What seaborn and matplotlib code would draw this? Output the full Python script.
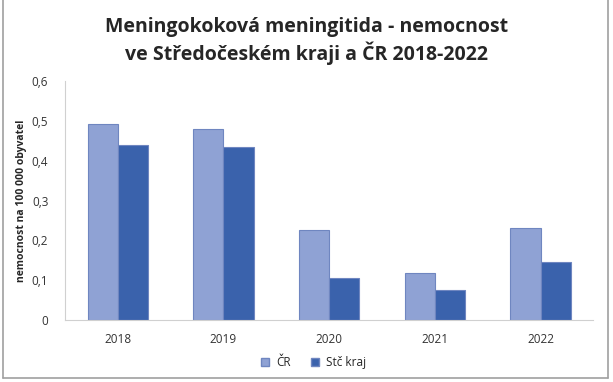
import pandas as pd
import seaborn as sns
import matplotlib.pyplot as plt
from matplotlib.lines import Line2D

years = ['2018', '2019', '2020', '2021', '2022']
cr = [0.492, 0.480, 0.226, 0.118, 0.231]
stc = [0.439, 0.434, 0.105, 0.075, 0.146]
series = ['ČR', 'Stč kraj']

df = pd.DataFrame({
    'rok': years * 2,
    'hodnota': cr + stc,
    'oblast': [series[0]] * len(years) + [series[1]] * len(years),
})

sns.set_style('white')
plt.rcParams['font.family'] = ['Open Sans', 'DejaVu Sans']

fig = plt.figure(figsize=(6.13, 3.82), dpi=100)
ax = fig.add_axes([0.106, 0.162, 0.862, 0.626])

palette = {'ČR': '#8fa2d4', 'Stč kraj': '#3a62ac'}
sns.barplot(data=df, x='rok', y='hodnota', hue='oblast', palette=palette,
            width=0.57, gap=0, saturation=1, ax=ax, legend=False,
            edgecolor='#6f86c0', linewidth=0.8)

ax.set_ylim(0, 0.6)
ax.set_xlim(-0.5, 4.5)
ax.set_yticks([0, 0.1, 0.2, 0.3, 0.4, 0.5, 0.6])
ax.set_yticklabels(['0', '0,1', '0,2', '0,3', '0,4', '0,5', '0,6'])
ax.tick_params(axis='both', labelsize=8.5, colors='#333333', length=0, pad=9)
ax.tick_params(axis='y', pad=12)
ax.set_xlabel('')
ax.set_ylabel('nemocnost na 100 000 obyvatel', fontsize=7.5, fontweight='bold')
ax.yaxis.set_label_coords(-0.072, 0.5)

for s in ['top', 'right']:
    ax.spines[s].set_visible(False)
ax.spines['left'].set_color('#d0d0d0')
ax.spines['bottom'].set_color('#d0d0d0')

fig.suptitle('Meningokoková meningitida - nemocnost\nve Středočeském kraji a ČR 2018-2022',
             fontsize=14, fontweight='bold', y=0.955, linespacing=1.25)

handles = [Line2D([], [], marker='s', linestyle='', markersize=6,
                  markerfacecolor=palette[s], markeredgecolor='#6f86c0') for s in series]
fig.legend(handles, series, loc='center', bbox_to_anchor=(0.505, 0.05), ncol=2,
           frameon=False, fontsize=8.5, handletextpad=0.0, columnspacing=1.0)

# outer frame
fig.add_artist(Line2D([0.005, 0.005], [0.01, 1.0], color='#a0a0a0', lw=1.2, transform=fig.transFigure))
fig.add_artist(Line2D([0.992, 0.992], [0.01, 1.0], color='#a0a0a0', lw=1.2, transform=fig.transFigure))
fig.add_artist(Line2D([0.005, 0.992], [0.01, 0.01], color='#a0a0a0', lw=1.2, transform=fig.transFigure))

fig.savefig('out.png', dpi=100)
